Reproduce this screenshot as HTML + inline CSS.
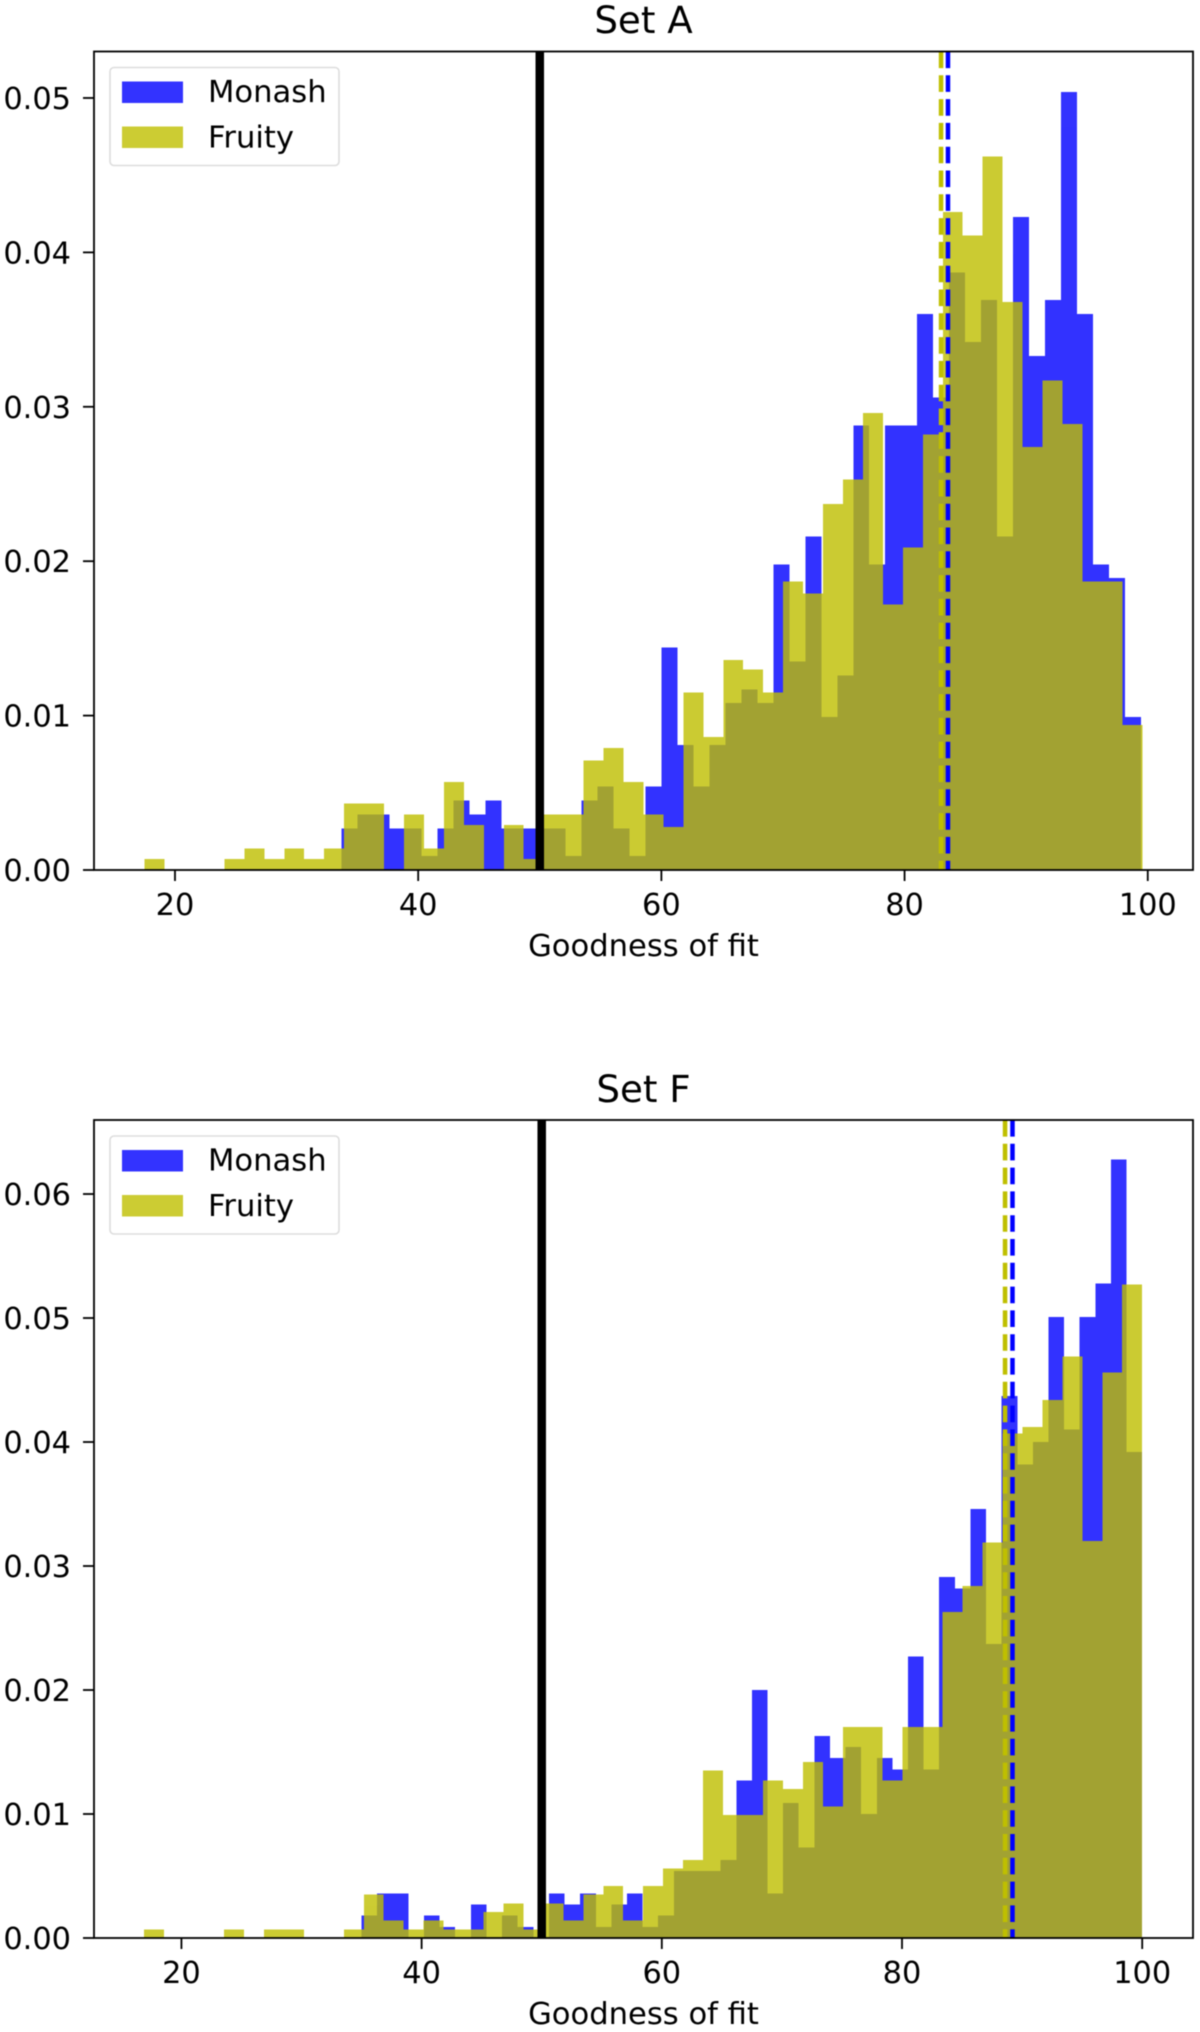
<!DOCTYPE html>
<html lang="en">
<head>
<meta charset="utf-8">
<title>Goodness of fit histograms</title>
<style>
html,body{margin:0;padding:0;background:#fff;}
svg{display:block;filter:blur(0.5px);}
text{font-family:"DejaVu Sans","Liberation Sans",sans-serif;fill:#000;}
</style>
</head>
<body>
<svg id="chart" xmlns="http://www.w3.org/2000/svg" width="1200" height="2032" viewBox="0 0 1200 2032">
  <rect x="0" y="0" width="1200" height="2032" fill="#fff"/>
  <g id="panel-a">
    <text x="643.5" y="33" text-anchor="middle" font-size="37.2">Set A</text>
    <text x="643.5" y="956" text-anchor="middle" font-size="30.6">Goodness of fit</text>
  </g>
  <g id="panel-f">
    <text x="643.5" y="1102" text-anchor="middle" font-size="37.2">Set F</text>
    <text x="643.5" y="2024" text-anchor="middle" font-size="30.6">Goodness of fit</text>
  </g>
</svg>
<script>
// Shared axis ticks
const xTickValues = [20, 40, 60, 80, 100];
const xTickLabels = ["20", "40", "60", "80", "100"];
const yTicksA = [0, 0.01, 0.02, 0.03, 0.04, 0.05];
const yTickLabelsA = ["0.00", "0.01", "0.02", "0.03", "0.04", "0.05"];
const yTicksF = [0, 0.01, 0.02, 0.03, 0.04, 0.05, 0.06];
const yTickLabelsF = ["0.00", "0.01", "0.02", "0.03", "0.04", "0.05", "0.06"];

// Set A histograms (density per bin)
const monashA = [.0027,.0036,.0036,.0027,.0027,.0009,.0027,.0045,.0036,.0045,.0027,.0027,.0027,.0027,.0009,.0045,.0054,.0027,.0009,.0054,.0144,.0081,.0054,.0081,.0108,.0117,.0108,.0198,.0135,.0216,.0099,.0126,.0288,.0198,.0288,.0288,.036,.0306,.0387,.0342,.0369,.0216,.0423,.0333,.0369,.0504,.036,.0198,.0189,.0099];
const fruityA = [.0007,0,0,0,.0007,.0014,.0007,.0014,.0007,.0014,.0043,.0043,0,.0036,.0014,.0057,.0029,0,.0029,.0007,.0036,.0036,.0071,.0079,.0057,.0036,.0028,.0115,.0086,.0136,.0130,.0115,.0187,.0179,.0237,.0253,.0296,.0172,.0209,.0282,.0426,.0411,.0462,.0368,.0274,.0317,.0289,.0187,.0187,.0094];
const monashAStart = 33.7;
const monashAWidth = 1.315;
const fruityAStart = 17.5;
const fruityAWidth = 1.641;
const monashAMean = 83.57;
const fruityAMean = 83.0;

// Set F histograms (density per bin)
const monashF = [.0018,.0036,.0036,0,.0018,.0009,0,.0027,0,.0018,.0009,0,.0036,.0027,.0036,.0009,.0027,.0036,.0009,.0018,.0054,.0054,.0054,.0063,.0127,.0200,.0036,.0109,.0073,.0163,.0145,.0154,.0100,.0145,.0136,.0227,.0136,.0291,.0282,.0346,.0237,.0437,.0382,.0400,.0501,.0410,.0501,.0528,.0628,.0392];
const fruityF = [.0007,0,0,0,.0007,0,.0007,.0007,0,0,.0007,.0035,.0014,.0007,.0014,.0007,.0007,.0021,.0028,.0007,.0028,.0014,.0035,.0042,.0014,.0042,.0056,.0063,.0135,.0099,.0099,.0127,.0120,.0142,.0106,.0170,.0170,.0127,.0170,.0170,.0263,.0284,.0319,.0407,.0412,.0434,.0469,.0320,.0456,.0527];
const monashFStart = 35.0;
const monashFWidth = 1.3;
const fruityFStart = 16.9;
const fruityFWidth = 1.662;
const monashFMean = 89.2;
const fruityFMean = 88.58;

const thresholdValue = 50;

const NS = "http://www.w3.org/2000/svg";
const BLUE = "#0000ff";
const OLIVE = "#bfbf00";

function makeScale(d0, d1, r0, r1) {
  return function (v) { return r0 + (v - d0) * (r1 - r0) / (d1 - d0); };
}

function svgEl(parent, tag) {
  const node = document.createElementNS(NS, tag);
  parent.appendChild(node);
  return node;
}

function drawBars(parent, values, start, width, color, x, y, baseline) {
  const series = svgEl(parent, "g");
  
  
  series.setAttribute("opacity", "0.8");
  series.setAttribute("shape-rendering", "crispEdges");
  values.forEach(function (v, i) {
    if (v <= 0) return;
    const el = svgEl(series, "rect");
    
    
    const x0 = x(start + i * width);
    const x1 = x(start + (i + 1) * width);
    el.setAttribute("x", x0);
    el.setAttribute("y", y(v));
    el.setAttribute("width", x1 - x0);
    el.setAttribute("height", baseline - y(v));
    el.setAttribute("fill", color);
  });
}

function drawMean(parent, value, color, x, top, bottom) {
  const el = svgEl(parent, "line");
  
  
  el.setAttribute("x1", x(value));
  el.setAttribute("x2", x(value));
  el.setAttribute("y1", top);
  el.setAttribute("y2", bottom);
  el.setAttribute("stroke", color);
  el.setAttribute("stroke-width", "4.5");
  el.setAttribute("stroke-dasharray", "16.6 7.2");
}

function drawPanel(parent, cfg) {
  const x = makeScale(cfg.xLim[0], cfg.xLim[1], cfg.left, cfg.right);
  const y = makeScale(cfg.yLim[0], cfg.yLim[1], cfg.bottom, cfg.top);

  drawBars(parent, cfg.monash, cfg.monashStart, cfg.monashWidth, "#0000ff", x, y, cfg.bottom);
  drawBars(parent, cfg.fruity, cfg.fruityStart, cfg.fruityWidth, "#bfbf00", x, y, cfg.bottom);

  drawMean(parent, cfg.fruityMean, OLIVE, x, cfg.top, cfg.bottom);
  drawMean(parent, cfg.monashMean, BLUE, x, cfg.top, cfg.bottom);

  const thr = svgEl(parent, "line");
  
  
  thr.setAttribute("x1", x(thresholdValue));
  thr.setAttribute("x2", x(thresholdValue));
  thr.setAttribute("y1", cfg.top);
  thr.setAttribute("y2", cfg.bottom);
  thr.setAttribute("stroke", "#000");
  thr.setAttribute("stroke-width", "8.5");

  const frame = svgEl(parent, "rect");
  
  
  frame.setAttribute("x", cfg.left);
  frame.setAttribute("y", cfg.top);
  frame.setAttribute("width", cfg.right - cfg.left);
  frame.setAttribute("height", cfg.bottom - cfg.top);
  frame.setAttribute("fill", "none");
  frame.setAttribute("stroke", "#000");
  frame.setAttribute("stroke-width", "1.8");

  xTickValues.forEach(function (v, i) {
    const tick = svgEl(parent, "line");
    
    
    tick.setAttribute("x1", x(v));
    tick.setAttribute("x2", x(v));
    tick.setAttribute("y1", cfg.bottom);
    tick.setAttribute("y2", cfg.bottom + 11);
    tick.setAttribute("stroke", "#000");
    tick.setAttribute("stroke-width", "1.8");
    const label = svgEl(parent, "text");
    
    
    label.setAttribute("x", x(v));
    label.setAttribute("y", cfg.bottom + 45);
    label.setAttribute("text-anchor", "middle");
    label.setAttribute("font-size", "30.4");
    label.textContent = xTickLabels[i];
  });

  cfg.yTicks.forEach(function (v, i) {
    const tick = svgEl(parent, "line");
    
    
    tick.setAttribute("x1", cfg.left - 11);
    tick.setAttribute("x2", cfg.left);
    tick.setAttribute("y1", y(v));
    tick.setAttribute("y2", y(v));
    tick.setAttribute("stroke", "#000");
    tick.setAttribute("stroke-width", "1.8");
    const label = svgEl(parent, "text");
    
    
    label.setAttribute("x", cfg.left - 23);
    label.setAttribute("y", y(v) + 11);
    label.setAttribute("text-anchor", "end");
    label.setAttribute("font-size", "30.4");
    label.textContent = cfg.yTickLabels[i];
  });

  // Legend
  const ly = cfg.top + 16;
  const legend = svgEl(parent, "g");
  
  
  const box = svgEl(legend, "rect");
  
  
  box.setAttribute("x", 110);
  box.setAttribute("y", ly);
  box.setAttribute("width", 229);
  box.setAttribute("height", 98);
  box.setAttribute("rx", 4);
  box.setAttribute("fill", "#fff");
  box.setAttribute("fill-opacity", "0.8");
  box.setAttribute("stroke", "#ddd");
  box.setAttribute("stroke-width", "1.6");

  const swatchBlue = svgEl(legend, "rect");
  
  
  swatchBlue.setAttribute("x", 122);
  swatchBlue.setAttribute("y", ly + 14);
  swatchBlue.setAttribute("width", 61);
  swatchBlue.setAttribute("height", 21.5);
  swatchBlue.setAttribute("fill", "#0000ff");
  swatchBlue.setAttribute("fill-opacity", "0.8");

  const textBlue = svgEl(legend, "text");
  
  
  textBlue.setAttribute("x", 208);
  textBlue.setAttribute("y", ly + 34.5);
  textBlue.setAttribute("font-size", "30.6");
  textBlue.textContent = "Monash";

  const swatchOlive = svgEl(legend, "rect");
  
  
  swatchOlive.setAttribute("x", 122);
  swatchOlive.setAttribute("y", ly + 59);
  swatchOlive.setAttribute("width", 61);
  swatchOlive.setAttribute("height", 21.5);
  swatchOlive.setAttribute("fill", "#bfbf00");
  swatchOlive.setAttribute("fill-opacity", "0.8");

  const textOlive = svgEl(legend, "text");
  
  
  textOlive.setAttribute("x", 208);
  textOlive.setAttribute("y", ly + 80);
  textOlive.setAttribute("font-size", "30.6");
  textOlive.textContent = "Fruity";
}

drawPanel(document.getElementById("panel-a"), {
  left: 94, right: 1193, top: 51.5, bottom: 870,
  xLim: [13.34, 103.72], yLim: [0, 0.05301],
  yTicks: yTicksA, yTickLabels: yTickLabelsA,
  monash: monashA, monashStart: monashAStart, monashWidth: monashAWidth, monashMean: monashAMean,
  fruity: fruityA, fruityStart: fruityAStart, fruityWidth: fruityAWidth, fruityMean: fruityAMean
});

drawPanel(document.getElementById("panel-f"), {
  left: 94, right: 1193, top: 1120, bottom: 1938,
  xLim: [12.72, 104.23], yLim: [0, 0.06597],
  yTicks: yTicksF, yTickLabels: yTickLabelsF,
  monash: monashF, monashStart: monashFStart, monashWidth: monashFWidth, monashMean: monashFMean,
  fruity: fruityF, fruityStart: fruityFStart, fruityWidth: fruityFWidth, fruityMean: fruityFMean
});
</script>
</body>
</html>
